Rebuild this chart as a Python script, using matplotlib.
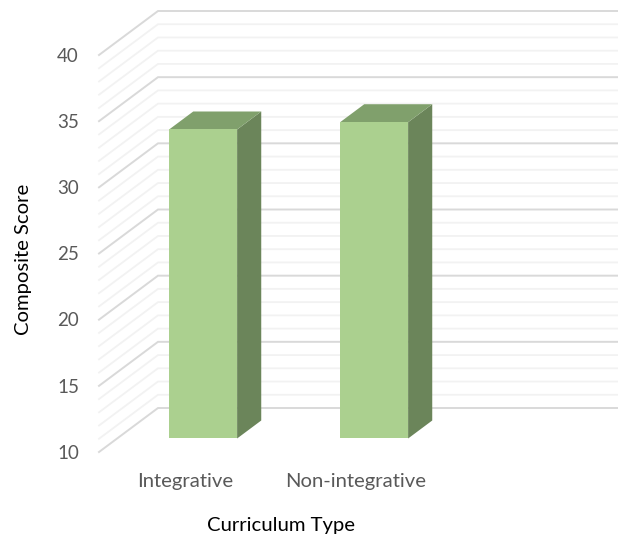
import matplotlib
matplotlib.use("Agg")
import matplotlib.pyplot as plt
from matplotlib.patches import Polygon

categories = ["Integrative", "Non-integrative"]
scores = [33.35, 33.9]
y_ticks = [10, 15, 20, 25, 30, 35, 40]
y_grid = list(range(10, 41))

W, H = 618, 543
PX_X = 171.0       # pixels per category
PX_Y = 397 / 30    # pixels per score unit
X0_PX = 185.0      # pixel x of the first category on the front plane
Y10_PX = 452.0     # pixel y of score 10 on the front plane

# oblique offset between the front and back of the floor, in data units
DEPTH_X = 59 / PX_X
DEPTH_Y = 44 / PX_Y
FLOOR_LEFT = (99 - X0_PX) / PX_X
X_RIGHT = (W - X0_PX) / PX_X

BAR_W = 68 / PX_X
BAR_FRONT = 0.307
BAR_BACK = 0.716

FRONT_COL = "#abd08f"
TOP_COL = "#80a06c"
SIDE_COL = "#6b855a"


def proj(x, y, d):
    return (x + d * DEPTH_X, y + d * DEPTH_Y)


fig = plt.figure(figsize=(W / 100, H / 100), dpi=100)
ax = fig.add_axes([0, 0, 1, 1])
ax.set_xlim(-X0_PX / PX_X, X_RIGHT)
ax.set_ylim(10 - (H - Y10_PX) / PX_Y, 10 + Y10_PX / PX_Y)
ax.axis("off")

plt.rcParams["font.family"] = ["Lato", "DejaVu Sans"]

# floor and back wall gridlines, heavier every five points
for v in y_grid:
    major = v in y_ticks
    col = "#d9d9d9" if major else "#f2f2f2"
    lw = 1.4 if major else 1.3
    p0 = proj(FLOOR_LEFT, v, 0)
    p1 = proj(FLOOR_LEFT, v, 1)
    ax.plot([p0[0], p1[0], X_RIGHT], [p0[1], p1[1], p1[1]], color=col, lw=lw,
            solid_joinstyle="miter", zorder=2 if major else 1)

# 3D bars: side, top and front faces
for i, s in enumerate(scores):
    l = i - BAR_W / 2
    r = i + BAR_W / 2
    side = [proj(r, 10, BAR_FRONT), proj(r, 10, BAR_BACK), proj(r, s, BAR_BACK), proj(r, s, BAR_FRONT)]
    top = [proj(l, s, BAR_FRONT), proj(r, s, BAR_FRONT), proj(r, s, BAR_BACK), proj(l, s, BAR_BACK)]
    front = [proj(l, 10, BAR_FRONT), proj(r, 10, BAR_FRONT), proj(r, s, BAR_FRONT), proj(l, s, BAR_FRONT)]
    ax.add_patch(Polygon(side, closed=True, fc=SIDE_COL, ec="none", zorder=3))
    ax.add_patch(Polygon(top, closed=True, fc=TOP_COL, ec="none", zorder=3))
    ax.add_patch(Polygon(front, closed=True, fc=FRONT_COL, ec="none", zorder=4))

# tick labels sit just left of the floor
lab_x = (79 - X0_PX) / PX_X
for v in y_ticks:
    ax.text(lab_x, v - 0.1, str(v), ha="right", va="center", fontsize=13.5, color="#595959")

x_label_y = 10 - (481.5 - Y10_PX) / PX_Y
for i, c in enumerate(categories):
    ax.text(i, x_label_y, c, ha="center", va="center", fontsize=14.6, color="#595959")

ax.text((281 - X0_PX) / PX_X, 10 - (526 - Y10_PX) / PX_Y, "Curriculum Type",
        ha="center", va="center", fontsize=14.6, color="black")
ax.text((24 - X0_PX) / PX_X, 10 - (259 - Y10_PX) / PX_Y, "Composite Score",
        ha="center", va="center", rotation=90, fontsize=14.6, color="black")

fig.savefig("out.png", dpi=100)
